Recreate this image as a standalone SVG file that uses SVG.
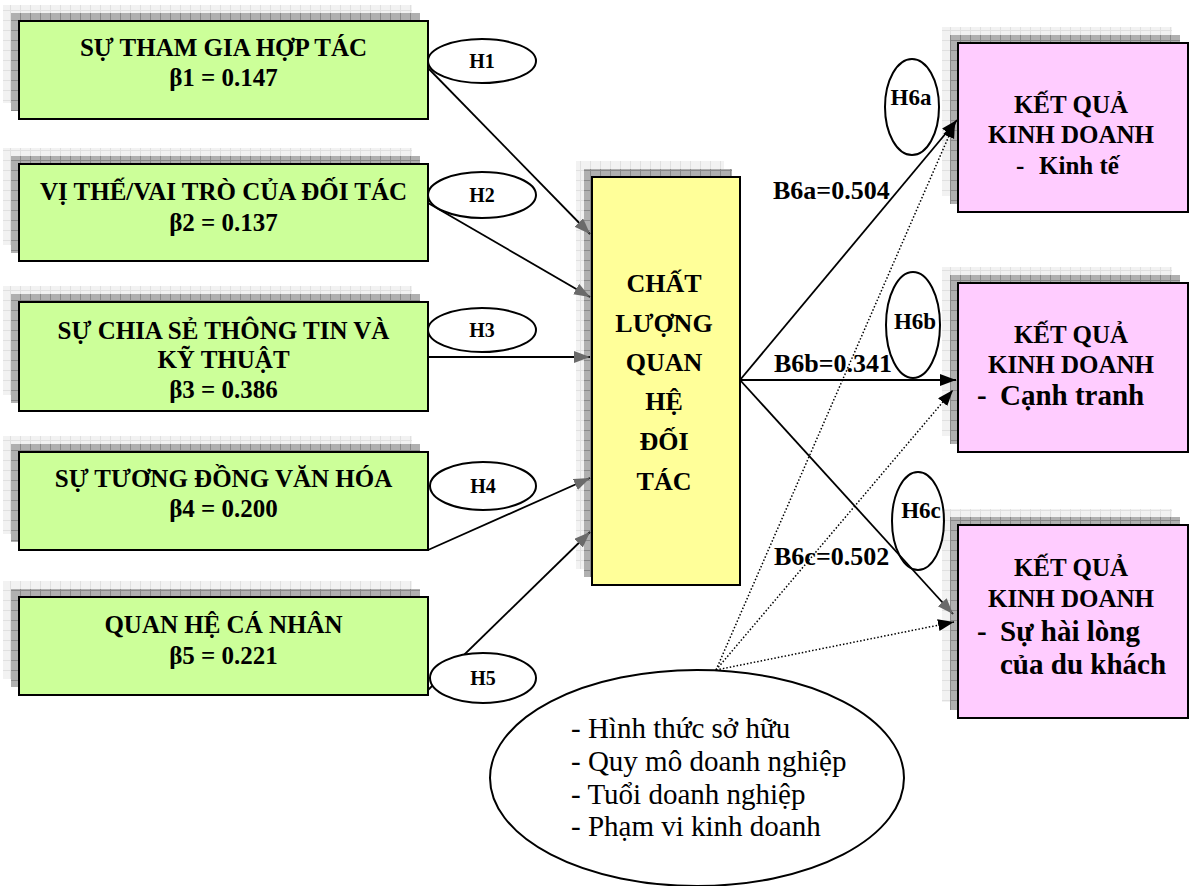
<svg xmlns="http://www.w3.org/2000/svg" width="1190" height="886" viewBox="0 0 1190 886">
<defs>
<style>
.t{font-family:"Liberation Serif","Times New Roman",serif;font-weight:bold;font-size:25px;text-anchor:middle;fill:#000}
.ty{font-family:"Liberation Serif","Times New Roman",serif;font-weight:bold;font-size:26px;text-anchor:middle;fill:#000}
.tl{font-family:"Liberation Serif","Times New Roman",serif;font-weight:bold;font-size:25px;fill:#000}
.tL{font-family:"Liberation Serif","Times New Roman",serif;font-weight:bold;font-size:29px;fill:#000}
.tb{font-family:"Liberation Serif","Times New Roman",serif;font-weight:bold;font-size:26px;fill:#000}
.th{font-family:"Liberation Serif","Times New Roman",serif;font-weight:bold;font-size:20px;text-anchor:middle;fill:#000}
.th6{font-family:"Liberation Serif","Times New Roman",serif;font-weight:bold;font-size:23px;text-anchor:middle;fill:#000}
.tr{font-family:"Liberation Serif","Times New Roman",serif;font-size:29px;fill:#000}
.sl{fill:url(#pl)}
.sd{fill:url(#pd)}
.g{fill:#ccff99;stroke:#000;stroke-width:2}
.y{fill:#ffff99;stroke:#000;stroke-width:2}
.p{fill:#ffccff;stroke:#000;stroke-width:2}
.e{fill:#fff;stroke:#000;stroke-width:2}
.en{fill:none;stroke:#000;stroke-width:2}
.c{fill:none;stroke:#000;stroke-width:1.8}
.d{fill:none;stroke:#000;stroke-width:1.5;stroke-dasharray:1.5 2}
</style>
<pattern id="pl" width="10" height="10" patternUnits="userSpaceOnUse">
<rect width="10" height="10" fill="#f2f2f2"/>
<path d="M0 0.5H10M0.5 0V10" stroke="#e0e0e0" stroke-width="1"/>
</pattern>
<pattern id="pd" width="10" height="10" patternUnits="userSpaceOnUse">
<rect width="10" height="10" fill="#b0b0b0"/>
<path d="M0 0.5H10M0.5 0V10" stroke="#8a8a8a" stroke-width="1"/>
</pattern>
<marker id="ag" markerUnits="userSpaceOnUse" markerWidth="18" markerHeight="14" refX="16" refY="6" orient="auto">
<path d="M0,0 L16,6 L0,12 z" fill="#6a6a6a"/>
</marker>
<marker id="ab" markerUnits="userSpaceOnUse" markerWidth="18" markerHeight="14" refX="16" refY="6" orient="auto">
<path d="M0,0 L16,6 L0,12 z" fill="#000"/>
</marker>
</defs>
<rect width="1190" height="886" fill="#fff"/>

<g id="n1">
<rect class="sl" x="3" y="5" width="409" height="98"/>
<rect class="sd" x="11" y="13" width="409" height="98"/>
<rect class="g" x="19" y="21" width="409" height="98"/>
<text class="t" x="223.5" y="56">SỰ THAM GIA HỢP TÁC</text>
<text class="t" x="223.5" y="86">β1 = 0.147</text>
</g>
<g id="n2">
<rect class="sl" x="3" y="148" width="409" height="97"/>
<rect class="sd" x="11" y="156" width="409" height="97"/>
<rect class="g" x="19" y="164" width="409" height="97"/>
<text class="t" x="223.5" y="200">VỊ THẾ/VAI TRÒ CỦA ĐỐI TÁC</text>
<text class="t" x="223.5" y="231">β2 = 0.137</text>
</g>
<g id="n3">
<rect class="sl" x="3" y="286" width="409" height="109"/>
<rect class="sd" x="11" y="294" width="409" height="109"/>
<rect class="g" x="19" y="302" width="409" height="109"/>
<text class="t" x="223.5" y="339">SỰ CHIA SẺ THÔNG TIN VÀ</text>
<text class="t" x="223.5" y="368">KỸ THUẬT</text>
<text class="t" x="223.5" y="398">β3 = 0.386</text>
</g>
<g id="n4">
<rect class="sl" x="3" y="436" width="409" height="98"/>
<rect class="sd" x="11" y="444" width="409" height="98"/>
<rect class="g" x="19" y="452" width="409" height="98"/>
<text class="t" x="223.5" y="487">SỰ TƯƠNG ĐỒNG VĂN HÓA</text>
<text class="t" x="223.5" y="517">β4 = 0.200</text>
</g>
<g id="n5">
<rect class="sl" x="3" y="581" width="409" height="98"/>
<rect class="sd" x="11" y="589" width="409" height="98"/>
<rect class="g" x="19" y="597" width="409" height="98"/>
<text class="t" x="223.5" y="633">QUAN HỆ CÁ NHÂN</text>
<text class="t" x="223.5" y="664">β5 = 0.221</text>
</g>

<g id="center">
<rect class="sl" x="576" y="161" width="148" height="408"/>
<rect class="sd" x="584" y="169" width="148" height="408"/>
<rect class="y" x="592" y="177" width="148" height="408"/>
<text class="ty" x="664" y="292">CHẤT</text>
<text class="ty" x="664" y="332">LƯỢNG</text>
<text class="ty" x="664" y="371">QUAN</text>
<text class="ty" x="664" y="410">HỆ</text>
<text class="ty" x="664" y="450">ĐỐI</text>
<text class="ty" x="664" y="490">TÁC</text>
</g>

<g id="outA">
<rect class="sl" x="942" y="27" width="230" height="169"/>
<rect class="sd" x="950" y="35" width="230" height="169"/>
<rect class="p" x="958" y="43" width="230" height="169"/>
<text class="t" x="1071" y="113">KẾT QUẢ</text>
<text class="t" x="1071" y="143">KINH DOANH</text>
<text class="tl" y="174"><tspan x="1016">-</tspan><tspan x="1039">Kinh tế</tspan></text>
</g>
<g id="outB">
<rect class="sl" x="942" y="267" width="230" height="169"/>
<rect class="sd" x="950" y="275" width="230" height="169"/>
<rect class="p" x="958" y="283" width="230" height="169"/>
<text class="t" x="1071" y="343">KẾT QUẢ</text>
<text class="t" x="1071" y="373">KINH DOANH</text>
<text class="tL" y="405"><tspan x="977">-</tspan><tspan x="1000">Cạnh tranh</tspan></text>
</g>
<g id="outC">
<rect class="sl" x="942" y="509" width="230" height="193"/>
<rect class="sd" x="950" y="517" width="230" height="193"/>
<rect class="p" x="958" y="525" width="230" height="193"/>
<text class="t" x="1071" y="576">KẾT QUẢ</text>
<text class="t" x="1071" y="607">KINH DOANH</text>
<text class="tL" y="641"><tspan x="977">-</tspan><tspan x="1000">Sự hài lòng</tspan></text>
<text class="tL" x="1000" y="674">của du khách</text>
</g>

<g id="controls">
<ellipse class="e" cx="697" cy="778" rx="207" ry="108"/>
<text class="tr" x="571" y="738">- Hình thức sở hữu</text>
<text class="tr" x="571" y="771">- Quy mô doanh nghiệp</text>
<text class="tr" x="571" y="804">- Tuổi doanh nghiệp</text>
<text class="tr" x="571" y="836">- Phạm vi kinh doanh</text>
</g>

<g id="connectors">
<path class="c" d="M428,68 L590,234" marker-end="url(#ag)"/>
<path class="c" d="M428,203 L590,297" marker-end="url(#ag)"/>
<path class="c" d="M428,357 L590,357" marker-end="url(#ag)"/>
<path class="c" d="M428,550 L590,478" marker-end="url(#ag)"/>
<path class="c" d="M428,690 L590,532" marker-end="url(#ag)"/>
<path class="c" d="M740,380 L957,120" marker-end="url(#ab)"/>
<path class="c" d="M740,380 L956,380" marker-end="url(#ab)"/>
<path class="c" d="M740,380 L953,614" marker-end="url(#ag)"/>
<path class="d" d="M716,670 L955,122" marker-end="url(#ab)"/>
<path class="d" d="M716,670 L953,390" marker-end="url(#ab)"/>
<path class="d" d="M716,670 L954,622" marker-end="url(#ab)"/>
</g>

<g id="h1"><ellipse class="e" cx="482" cy="61" rx="54" ry="22"/><text class="th" x="482" y="68">H1</text></g>
<g id="h2"><ellipse class="e" cx="482" cy="195" rx="54" ry="23"/><text class="th" x="482" y="202">H2</text></g>
<g id="h3"><ellipse class="e" cx="482" cy="330" rx="54" ry="22"/><text class="th" x="482" y="337">H3</text></g>
<g id="h4"><ellipse class="e" cx="483" cy="486" rx="53" ry="24"/><text class="th" x="483" y="493">H4</text></g>
<g id="h5"><ellipse class="e" cx="483" cy="678" rx="53" ry="25"/><text class="th" x="483" y="685">H5</text></g>
<g id="h6a"><ellipse class="en" cx="912" cy="107" rx="27" ry="48"/><text class="th6" x="911" y="105">H6a</text></g>
<g id="h6b"><ellipse class="en" cx="913" cy="325" rx="27" ry="53"/><text class="th6" x="915" y="329">H6b</text></g>
<g id="h6c"><ellipse class="en" cx="918" cy="521" rx="26" ry="49"/><text class="th6" x="921" y="518">H6c</text></g>

<g id="labels">
<text class="tb" x="773" y="199">B6a=0.504</text>
<text class="tb" x="774" y="372">B6b=0.341</text>
<text class="tb" x="774" y="565">B6c=0.502</text>
</g>
</svg>
